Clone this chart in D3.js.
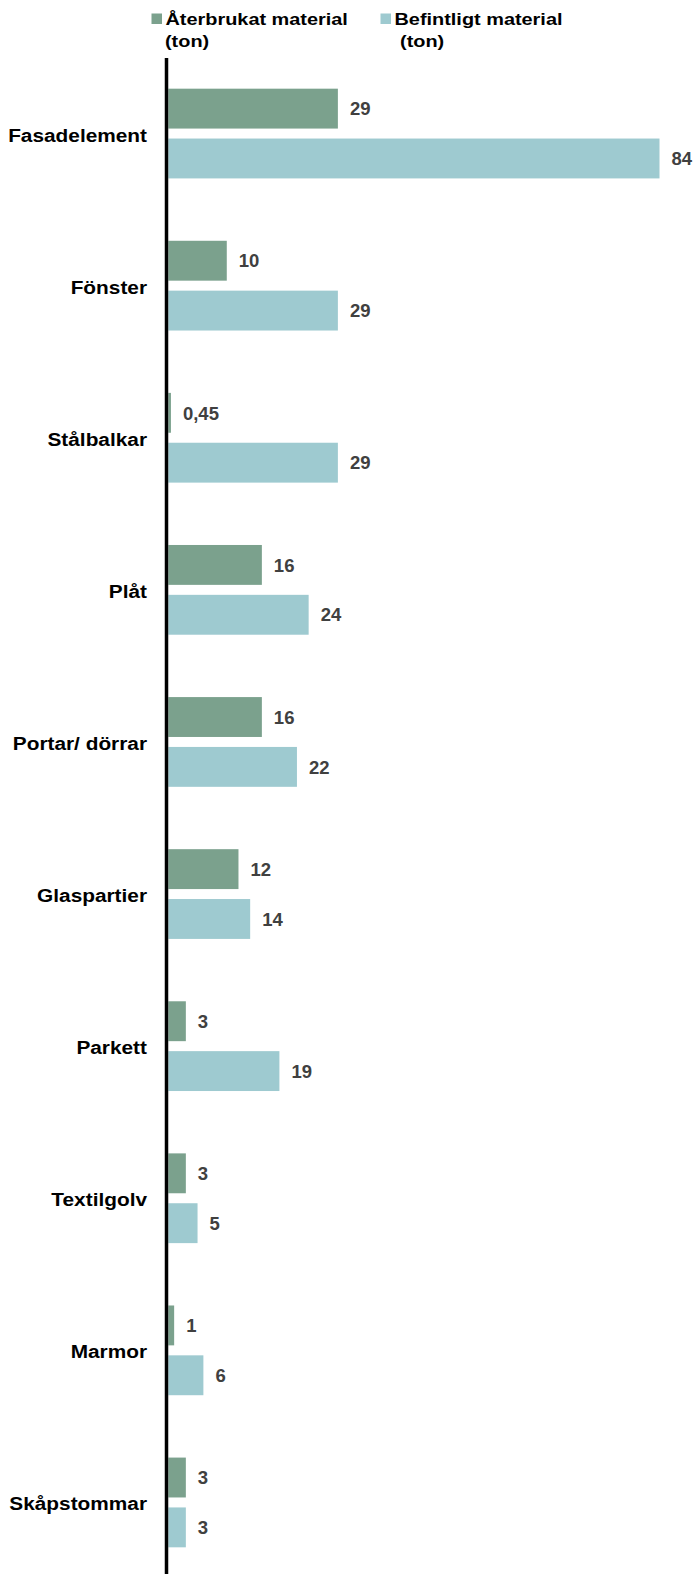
<!DOCTYPE html>
<html>
<head>
<meta charset="utf-8">
<script src="https://cdn.jsdelivr.net/npm/d3@7"></script>
<style>
  html, body { margin: 0; padding: 0; background: #fff; }
  svg { display: block; font-family: "Liberation Sans", Arial, sans-serif; }
</style>
</head>
<body>
<div id="chart"></div>
<script>
// ---- data ----
const categories = ["Fasadelement", "Fönster", "Stålbalkar", "Plåt ", "Portar/ dörrar",
                    "Glaspartier", "Parkett", "Textilgolv", "Marmor", "Skåpstommar"];
const seriesNames = ["Återbrukat material", "Befintligt material"];
const seriesUnits = ["(ton)", " (ton)"];
const aterbrukat = [29, 10, 0.45, 16, 16, 12, 3, 3, 1, 3];
const befintligt = [84, 29, 29, 24, 22, 14, 19, 5, 6, 3];
const colors = ["#7BA18D", "#9ECAD0"];

// ---- layout ----
const W = 696, H = 1574;
const axisX = 166.5;
const barX0 = 168.3;

const svg = d3.select("#chart").append("svg")
  .attr("width", W).attr("height", H);

const rows = categories.map((c, i) => ({
  cat: c,
  vals: [aterbrukat[i], befintligt[i]]
}));

const x = d3.scaleLinear().domain([0, 84]).range([barX0, 659.5]);
const y = d3.scaleBand().domain(categories).range([57.5, 1578.5])
  .paddingInner(0.41).paddingOuter(0.205);
const ys = d3.scaleBand().domain([0, 1]).range([0, y.bandwidth()]).paddingInner(0.2);

const fmt = v => v < 1 ? v.toFixed(2).replace(".", ",") : String(v);

// bars
const g = svg.append("g");
const groups = g.selectAll("g.row").data(rows).join("g")
  .attr("class", "row")
  .attr("transform", d => `translate(0,${y(d.cat)})`);

groups.selectAll("rect").data(d => d.vals.map((v, k) => ({v, k}))).join("rect")
  .attr("x", x(0))
  .attr("y", d => ys(d.k))
  .attr("width", d => x(d.v) - x(0))
  .attr("height", ys.bandwidth())
  .attr("fill", d => colors[d.k]);

groups.selectAll("text.val").data(d => d.vals.map((v, k) => ({v, k}))).join("text")
  .attr("class", "val")
  .attr("x", d => x(d.v) + 12)
  .attr("y", d => ys(d.k) + ys.bandwidth() / 2 + 6.7)
  .attr("fill", "#404040")
  .attr("font-size", "18.5px")
  .attr("font-weight", "bold")
  .text(d => fmt(d.v));

// category labels (y axis)
svg.append("g").selectAll("text").data(categories).join("text")
  .attr("transform", d => `translate(147,${y(d) + y.bandwidth() / 2 + 8}) scale(1.12,1)`)
  .attr("text-anchor", "end")
  .attr("font-size", "18.6px")
  .attr("font-weight", "bold")
  .attr("fill", "#000")
  .text(d => d.trim());

// axis line
svg.append("line")
  .attr("x1", axisX).attr("x2", axisX)
  .attr("y1", 58).attr("y2", H)
  .attr("stroke", "#000").attr("stroke-width", 3.5);

// legend
const legX = [151.5, 380.5];
const leg = svg.append("g").selectAll("g").data(seriesNames).join("g")
  .attr("transform", (d, i) => `translate(${legX[i]},0)`);
leg.append("rect")
  .attr("x", 0).attr("y", 13.5).attr("width", 10.5).attr("height", 10.5)
  .attr("fill", (d, i) => colors[i]);
leg.append("text")
  .attr("transform", "translate(14,25) scale(1.17,1)")
  .attr("font-size", "17px").attr("font-weight", "bold").attr("fill", "#000")
  .text(d => d);
leg.append("text")
  .attr("transform", (d, i) => `translate(${i === 0 ? 13.5 : 14},46.5) scale(1.17,1)`)
  .attr("font-size", "17px").attr("font-weight", "bold").attr("fill", "#000")
  .attr("xml:space", "preserve")
  .style("white-space", "pre")
  .text((d, i) => seriesUnits[i]);
</script>
</body>
</html>
